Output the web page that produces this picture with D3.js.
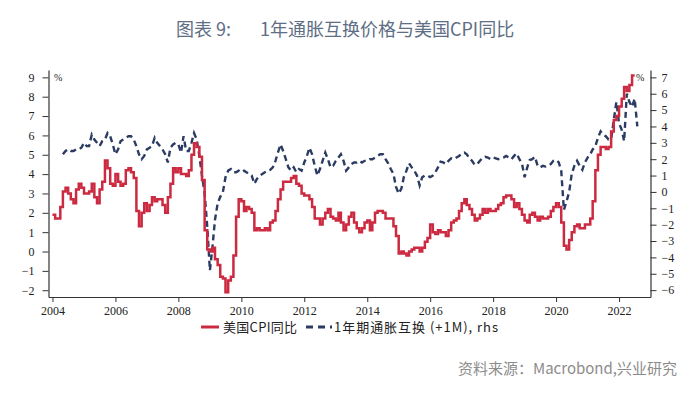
<!DOCTYPE html>
<html>
<head>
<meta charset="utf-8">
<script src="https://cdn.jsdelivr.net/npm/d3@7"></script>
<style>
  body { margin: 0; background: #fff; }
  svg { display: block; }
  .tick text { font-family: "Liberation Serif", serif; font-size: 12px; fill: #222; }
  .domain, .tick line { stroke: #333; }
</style>
</head>
<body>
<div id="chart"></div>
<script>
// US CPI YoY, monthly from 2004-01 (left axis)
let cpiStart = new Date(2004, 0, 1)
let cpiYoY = [
  1.9, 1.7, 1.7, 2.3, 3.1, 3.3, 3.0, 2.7, 2.5, 3.2, 3.5, 3.3,
  3.0, 3.0, 3.1, 3.5, 2.8, 2.5, 3.2, 3.6, 4.7, 4.3, 3.5, 3.4,
  4.0, 3.6, 3.4, 3.5, 4.2, 4.3, 4.1, 3.8, 2.1, 1.3, 2.0, 2.5,
  2.1, 2.4, 2.8, 2.6, 2.7, 2.7, 2.4, 2.0, 2.8, 3.5, 4.3, 4.1,
  4.3, 4.0, 4.0, 3.9, 4.2, 5.0, 5.6, 5.4, 4.9, 3.7, 1.1, 0.1,
  0.0, 0.2, -0.4, -0.7, -1.3, -1.4, -2.1, -1.5, -1.3, -0.2, 1.8, 2.7,
  2.6, 2.1, 2.3, 2.2, 2.0, 1.1, 1.2, 1.1, 1.1, 1.2, 1.1, 1.5,
  1.6, 2.1, 2.7, 3.2, 3.6, 3.6, 3.6, 3.8, 3.9, 3.5, 3.4, 3.0,
  2.9, 2.9, 2.7, 2.3, 1.7, 1.7, 1.4, 1.7, 2.0, 2.2, 1.8, 1.7,
  1.6, 2.0, 1.5, 1.1, 1.4, 1.8, 2.0, 1.5, 1.2, 1.0, 1.2, 1.5,
  1.6, 1.1, 1.5, 2.0, 2.1, 2.1, 2.0, 1.7, 1.7, 1.7, 1.3, 0.8,
  -0.1, 0.0, -0.1, -0.2, 0.0, 0.1, 0.2, 0.2, 0.0, 0.2, 0.5, 0.7,
  1.4, 1.0, 0.9, 1.1, 1.0, 1.0, 0.8, 1.1, 1.5, 1.6, 1.7, 2.1,
  2.5, 2.7, 2.4, 2.2, 1.9, 1.6, 1.7, 1.9, 2.2, 2.0, 2.2, 2.1,
  2.1, 2.2, 2.4, 2.5, 2.8, 2.9, 2.9, 2.7, 2.3, 2.5, 2.2, 1.9,
  1.6, 1.5, 1.9, 2.0, 1.8, 1.6, 1.8, 1.7, 1.7, 1.8, 2.1, 2.3,
  2.5, 2.3, 1.5, 0.3, 0.1, 0.6, 1.0, 1.3, 1.4, 1.2, 1.2, 1.4,
  1.4, 1.7, 2.6, 4.2, 5.0, 5.4, 5.4, 5.3, 5.4, 6.2, 6.8, 7.0,
  7.5, 7.9, 8.5, 8.3, 8.6, 9.1
]

// 1Y inflation swap (+1M), monthly from 2004-05 (right axis)
let swapStart = new Date(2004, 4, 1)
let swap1y = [
  2.3, 2.5, 2.6, 2.5, 2.5, 2.6, 2.6, 2.7,
  3.0, 2.8, 2.8, 3.5, 3.2, 3.0, 2.8, 3.1, 3.2, 3.6, 3.4, 2.9,
  2.3, 2.6, 3.1, 3.2, 3.3, 3.4, 3.4, 3.2, 2.8, 2.3, 2.0, 2.2,
  2.6, 2.7, 2.8, 3.3, 3.0, 2.8, 2.6, 2.3, 1.8, 2.7, 2.9, 3.0,
  2.9, 2.4, 3.4, 2.5, 2.5, 3.0, 3.6, 3.2, 2.2, 1.0, -0.1, -2.1,
  -4.8, -3.3, -1.7, -0.7, -0.3, 0.0, 0.9, 1.3, 1.4, 1.2, 1.2, 1.3,
  1.2, 1.3, 1.2, 1.1, 1.0, 0.5, 0.8, 1.0, 1.1, 1.2, 1.3, 1.35,
  1.5, 1.9, 2.4, 2.9, 2.5, 2.0, 1.5, 1.3, 1.5, 1.2, 1.4, 1.3,
  1.8, 2.2, 2.7, 2.3, 1.6, 1.0, 1.4, 1.9, 2.4, 2.0, 1.5, 1.6,
  1.9, 2.1, 2.3, 1.9, 1.3, 1.5, 1.7, 1.8, 1.8, 1.9, 1.8, 1.9,
  1.9, 2.0, 2.0, 2.1, 2.2, 2.3, 2.3, 2.0, 1.75, 1.4, 1.1, 0.3,
  -0.1, 0.2, 0.9, 1.3, 1.75, 1.5, 1.3, 1.0, 0.4, 0.9, 1.0, 1.0,
  0.9, 1.0, 1.2, 1.5, 1.85, 1.8, 1.7, 1.9, 2.05, 2.0, 2.1, 2.2,
  2.35, 2.4, 2.3, 2.05, 1.9, 1.65, 1.7, 1.9, 2.1, 2.15, 2.1, 2.0,
  2.1, 2.05, 2.0, 2.05, 2.1, 2.2, 2.1, 2.0, 2.2, 2.35, 2.0, 1.75,
  0.9, 1.5, 1.95, 2.0, 2.15, 1.6, 1.5, 1.6, 1.55, 1.6, 1.7, 1.9,
  1.95, 1.8, 1.3, -1.1, -0.6, 0.0, 1.1, 1.6, 1.9, 1.6, 1.35, 1.8,
  2.1, 2.3, 2.6, 2.8, 3.3, 3.7, 3.5, 3.4, 3.2, 3.2, 4.4, 5.5,
  4.2, 3.8, 3.1, 6.0, 5.5, 5.2, 5.7, 4.0
]

let leftTicks = d3.range(-2, 10)
let rightTicks = d3.range(-6, 8)
let yearTicks = d3.range(2004, 2023, 2)

let seriesNames = ['美国CPI同比', '1年期通胀互换 (+1M), rhs']

let width = 700
let height = 397
let plot = { left: 48.5, right: 650.5, top: 70, bottom: 297 }

let svg = d3
  .select('#chart')
  .append('svg')
  .attr('width', width)
  .attr('height', height)

let x = d3
  .scaleTime()
  .domain([new Date(2003, 10, 16), new Date(2023, 0, 1)])
  .range([plot.left, plot.right])

let yLeft = d3.scaleLinear().domain([-2.35, 9.38]).range([plot.bottom, plot.top])
let yRight = d3.scaleLinear().domain([-6.42, 7.45]).range([plot.bottom, plot.top])

let cpi = cpiYoY.map((v, i) => ({ date: d3.timeMonth.offset(cpiStart, i), value: v }))
// hold the last monthly value to the end of its month
cpi.push({ date: d3.timeMonth.offset(cpiStart, cpiYoY.length), value: cpiYoY[cpiYoY.length - 1] })
let swap = swap1y.map((v, i) => ({ date: d3.timeMonth.offset(swapStart, i), value: v }))

// title
svg
  .append('text')
  .attr('x', 176)
  .attr('y', 36)
  .attr('font-family', 'Noto Sans CJK SC, sans-serif')
  .attr('font-size', 18)
  .attr('fill', '#5e6e84')
  .text('图表 9:')

svg
  .append('text')
  .attr('x', 260)
  .attr('y', 36)
  .attr('font-family', 'Noto Sans CJK SC, sans-serif')
  .attr('font-size', 18)
  .attr('fill', '#5e6e84')
  .text('1年通胀互换价格与美国CPI同比')

// axes
svg
  .append('g')
  .attr('transform', 'translate(' + plot.left + ',0)')
  .call(d3.axisLeft(yLeft).tickValues(leftTicks).tickSize(6).tickPadding(8).tickSizeOuter(0))

svg
  .append('g')
  .attr('transform', 'translate(' + plot.right + ',0)')
  .call(d3.axisRight(yRight).tickValues(rightTicks).tickSize(6).tickPadding(5).tickSizeOuter(0))

svg
  .append('g')
  .attr('transform', 'translate(0,' + plot.bottom + ')')
  .call(
    d3
      .axisBottom(x)
      .tickValues(yearTicks.map(y => new Date(y, 0, 1)))
      .tickFormat(d3.timeFormat('%Y'))
      .tickSize(5)
      .tickPadding(4)
      .tickSizeOuter(0)
  )

svg.selectAll('.domain').attr('stroke-width', 1.2)

// unit labels
svg
  .append('text')
  .attr('x', 54)
  .attr('y', 81)
  .attr('font-family', 'Liberation Serif, serif')
  .attr('font-size', 10)
  .attr('fill', '#222')
  .text('%')

svg
  .append('text')
  .attr('x', 636)
  .attr('y', 81)
  .attr('font-family', 'Liberation Serif, serif')
  .attr('font-size', 10)
  .attr('fill', '#222')
  .text('%')

// lines
let cpiLine = d3
  .line()
  .curve(d3.curveStepAfter)
  .x(d => x(d.date))
  .y(d => yLeft(d.value))

let swapLine = d3
  .line()
  .x(d => x(d.date))
  .y(d => yRight(d.value))

svg
  .append('path')
  .datum(swap)
  .attr('d', swapLine)
  .attr('fill', 'none')
  .attr('stroke', '#2b3b62')
  .attr('stroke-width', 2.4)
  .attr('stroke-dasharray', '6,4')

svg
  .append('path')
  .datum(cpi)
  .attr('d', cpiLine)
  .attr('fill', 'none')
  .attr('stroke', '#cc2a40')
  .attr('stroke-width', 2.5)
  .attr('stroke-linejoin', 'miter')

// legend
let legend = svg.append('g').attr('transform', 'translate(0,327)')

legend
  .append('line')
  .attr('x1', 201)
  .attr('x2', 219)
  .attr('stroke', '#cc2a40')
  .attr('stroke-width', 3)

legend
  .append('text')
  .attr('x', 223)
  .attr('y', 4.5)
  .attr('font-family', 'Noto Sans CJK SC, sans-serif')
  .attr('font-size', 13)
  .attr('fill', '#222')
  .attr('textLength', 74)
  .attr('lengthAdjust', 'spacing')
  .text(seriesNames[0])

legend
  .append('line')
  .attr('x1', 306)
  .attr('x2', 332)
  .attr('stroke', '#2b3b62')
  .attr('stroke-width', 3)
  .attr('stroke-dasharray', '7,5')

legend
  .append('text')
  .attr('x', 334)
  .attr('y', 4.5)
  .attr('font-family', 'Noto Sans CJK SC, sans-serif')
  .attr('font-size', 13)
  .attr('fill', '#222')
  .attr('textLength', 164)
  .attr('lengthAdjust', 'spacing')
  .text(seriesNames[1])

// source
svg
  .append('text')
  .attr('x', 677)
  .attr('y', 374)
  .attr('text-anchor', 'end')
  .attr('font-family', 'Noto Sans CJK SC, sans-serif')
  .attr('font-size', 15)
  .attr('fill', '#8c8c8c')
  .text('资料来源：Macrobond,兴业研究')
</script>
</body>
</html>
